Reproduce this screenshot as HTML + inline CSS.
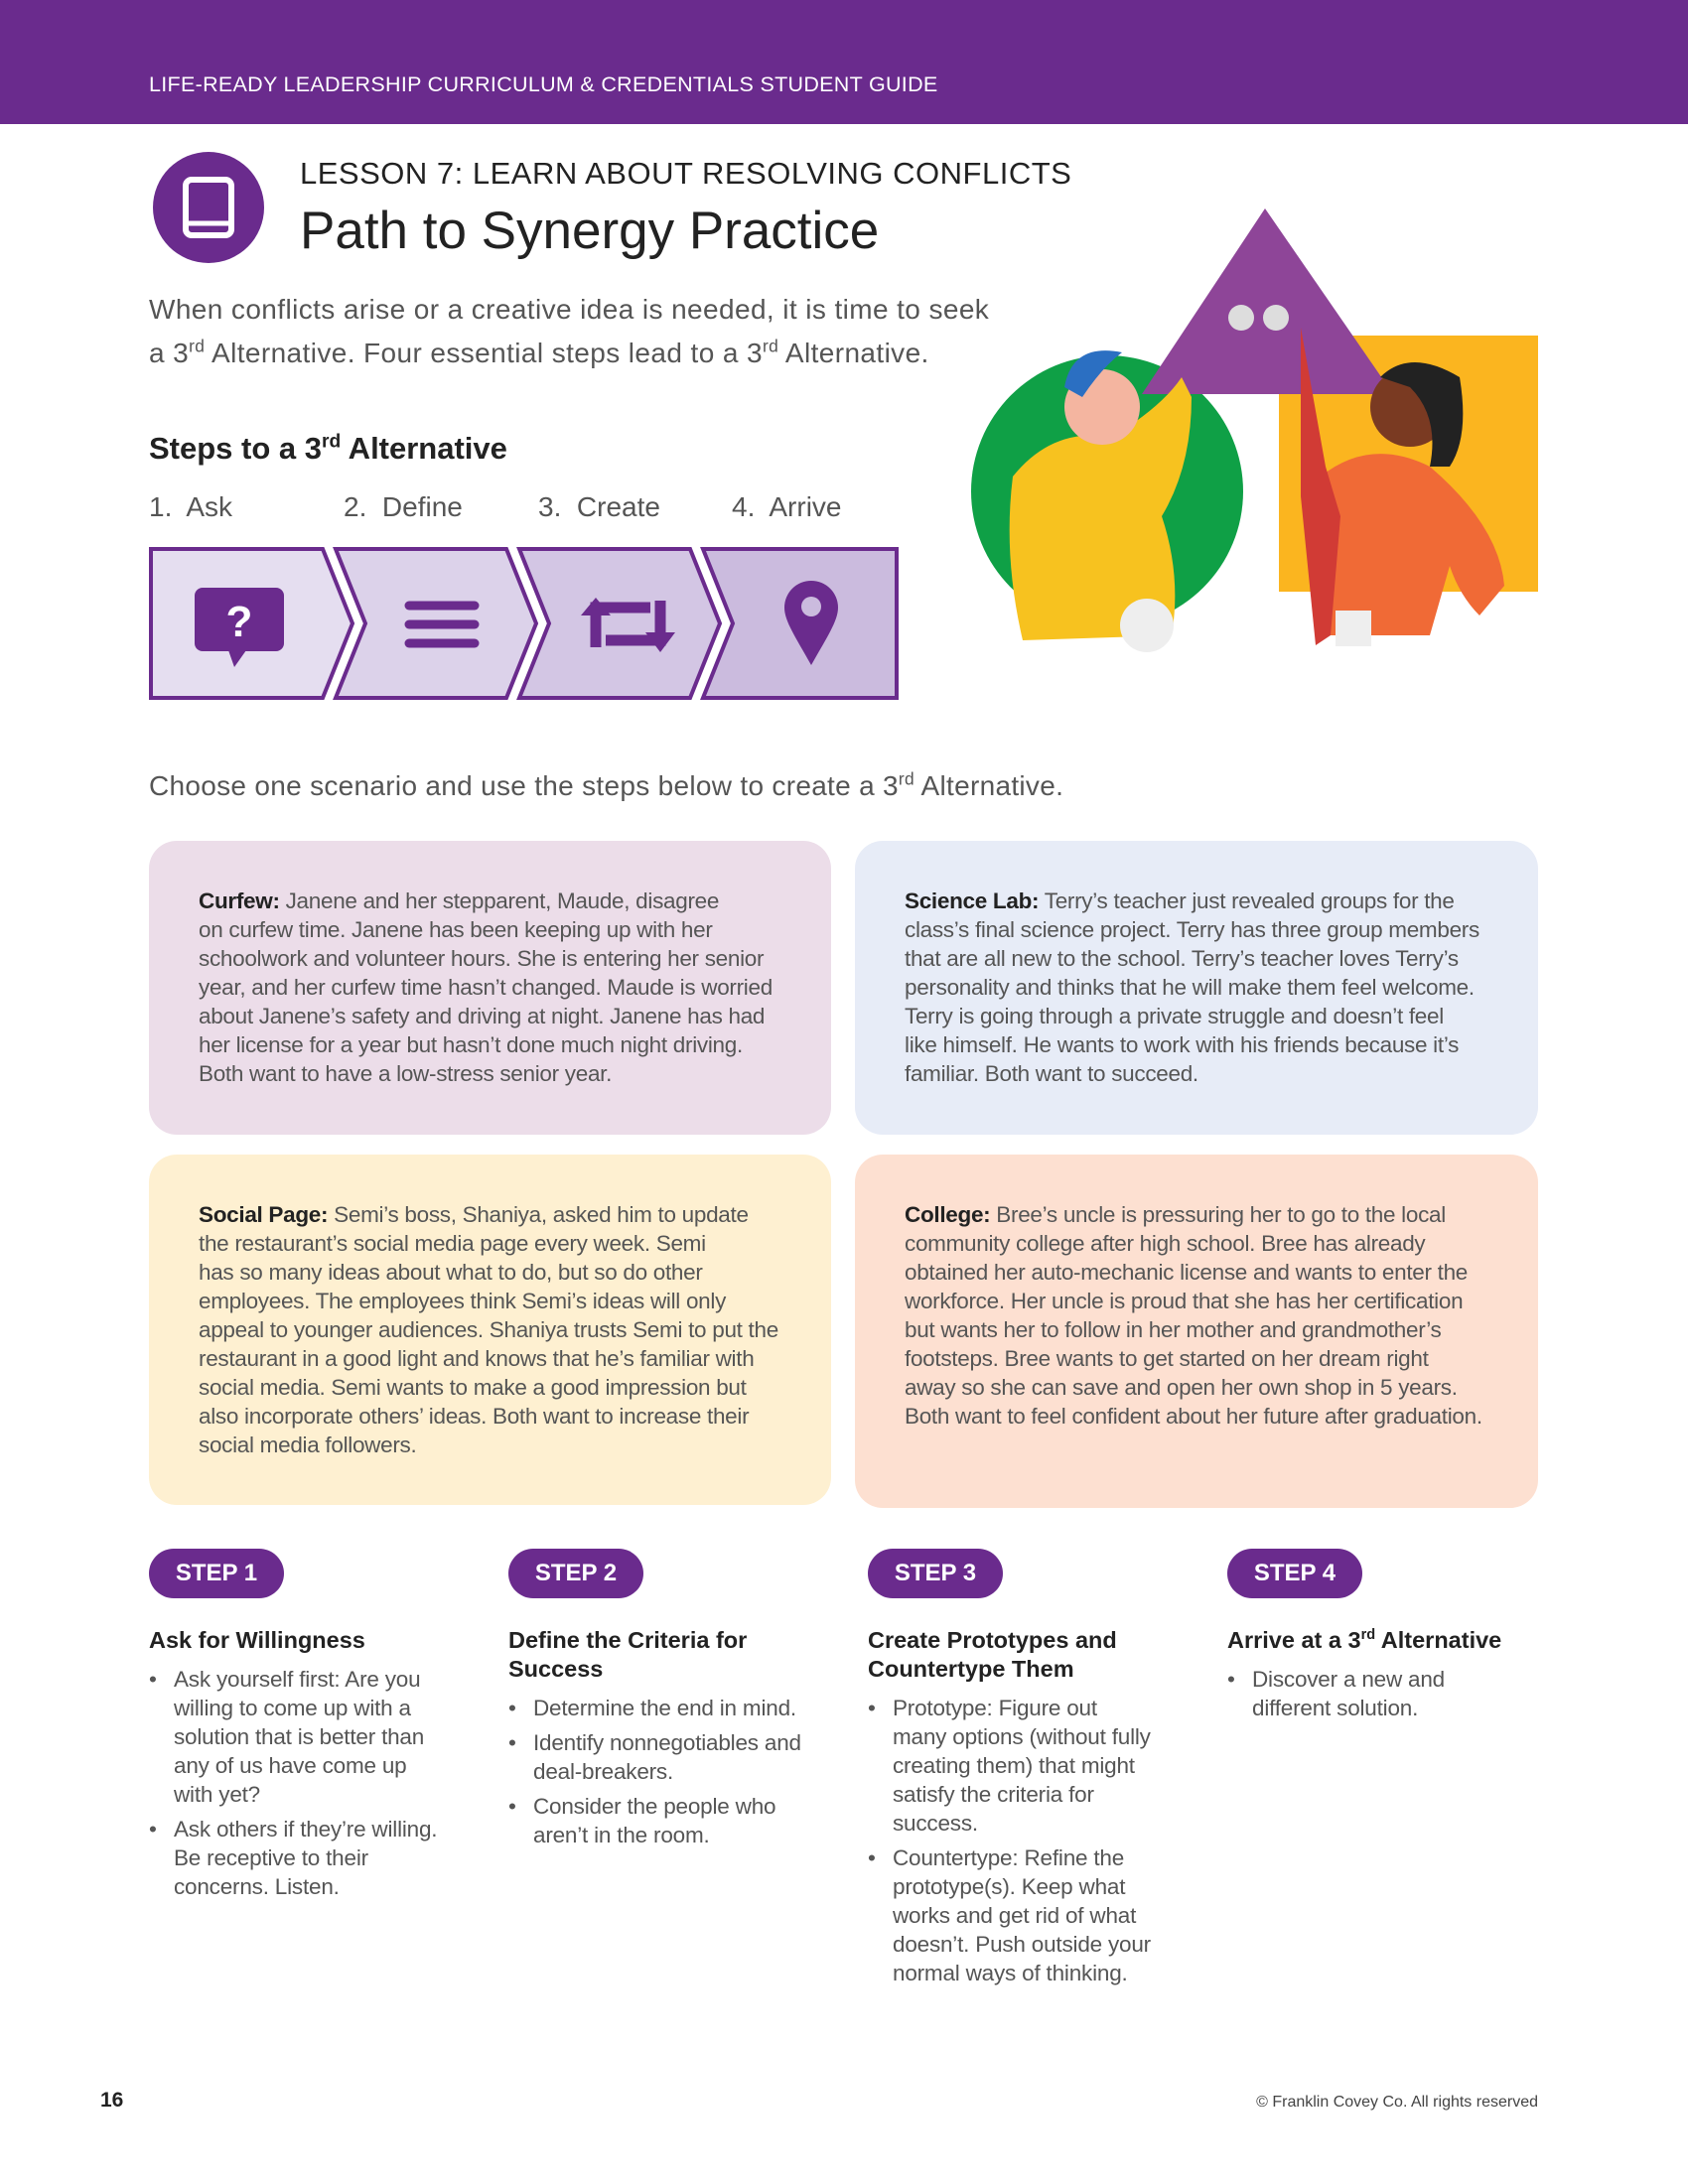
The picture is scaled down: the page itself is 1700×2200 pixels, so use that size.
<!DOCTYPE html>
<html><head><meta charset="utf-8"><style>
*{margin:0;padding:0;box-sizing:border-box}
body{width:1700px;height:2200px;position:relative;background:#fff;font-family:"Liberation Sans",sans-serif;color:#555;overflow:hidden}
.a{position:absolute}
.hdr{left:0;top:0;width:1700px;height:125px;background:#6a2b8d}
.hdr span{position:absolute;left:150px;top:73px;color:#fff;font-size:21.5px;letter-spacing:.3px}
.box{position:absolute;border-radius:28px;padding:46px 50px 0 50px;font-size:22.5px;line-height:29px;color:#555;letter-spacing:-.3px}
.box b{color:#222;font-weight:bold}
.pill{position:absolute;top:1560px;width:136px;height:50px;border-radius:25px;background:#6a2b8d;color:#fff;font-weight:bold;font-size:24px;text-align:center;line-height:50px}
.col{position:absolute;top:1638px}
.col h3{font-size:23.5px;color:#222;font-weight:bold;line-height:29px;margin-bottom:10px}
.col ul{list-style:none}
.col li{position:relative;padding-left:25px;font-size:22.5px;line-height:29px;color:#555;margin-bottom:6px;letter-spacing:-.2px}
.col li:before{content:"•";position:absolute;left:0;color:#555}
sup{font-size:62%;line-height:0;vertical-align:super}
</style></head><body>
<div class="a hdr"><span>LIFE-READY LEADERSHIP CURRICULUM &amp; CREDENTIALS STUDENT GUIDE</span></div>

<svg class="a" style="left:154px;top:153px" width="112" height="112" viewBox="0 0 112 112">
<circle cx="56" cy="56" r="56" fill="#6a2b8d"/>
<rect x="33" y="28" width="46" height="56" rx="6" fill="none" stroke="#fff" stroke-width="6"/>
<line x1="33" y1="72" x2="79" y2="72" stroke="#fff" stroke-width="5"/>
</svg>
<div class="a" style="left:302px;top:157px;font-size:31px;color:#222;letter-spacing:.5px">LESSON 7: LEARN ABOUT RESOLVING CONFLICTS</div>
<div class="a" style="left:302px;top:202px;font-size:53px;color:#222">Path to Synergy Practice</div>
<div class="a" style="left:150px;top:290px;font-size:28px;line-height:44px;color:#555;width:1000px;letter-spacing:.4px">When conflicts arise or a creative idea is needed, it is time to seek<br>a 3<sup>rd</sup> Alternative. Four essential steps lead to a 3<sup>rd</sup> Alternative.</div>
<div class="a" style="left:150px;top:434px;font-size:31px;font-weight:bold;color:#222">Steps to a 3<sup>rd</sup> Alternative</div>
<div class="a" style="left:150px;top:495px;font-size:28px;color:#555">1.&nbsp; Ask</div>
<div class="a" style="left:346px;top:495px;font-size:28px;color:#555">2.&nbsp; Define</div>
<div class="a" style="left:542px;top:495px;font-size:28px;color:#555">3.&nbsp; Create</div>
<div class="a" style="left:737px;top:495px;font-size:28px;color:#555">4.&nbsp; Arrive</div>

<svg class="a" style="left:0;top:0" width="1700" height="760">
<g stroke="#6a2b8d" stroke-width="4" stroke-linejoin="miter">
<polygon points="152,553 325,553 355,628 325,703 152,703" fill="#e5def0"/>
<polygon points="338,553 510,553 540,628 510,703 338,703 368,628" fill="#dcd2ea"/>
<polygon points="523,553 695,553 725,628 695,703 523,703 553,628" fill="#d3c6e4"/>
<polygon points="708,553 903,553 903,703 708,703 738,628" fill="#cbbbde"/>
</g>
<rect x="196" y="592" width="90" height="64" rx="8" fill="#6a2b8d"/>
<polygon points="230,655 248,655 236,672" fill="#6a2b8d"/>
<text x="241" y="641" font-size="44" font-weight="bold" fill="#fff" text-anchor="middle" font-family="Liberation Sans">?</text>
<g stroke="#6a2b8d" stroke-width="9" stroke-linecap="round"><line x1="412" y1="610" x2="478" y2="610"/><line x1="412" y1="629" x2="478" y2="629"/><line x1="412" y1="648" x2="478" y2="648"/></g>
<g fill="none" stroke="#6a2b8d" stroke-width="11"><path d="M600 652 V612 H655"/><path d="M665 605 V645 H610"/></g>
<polygon points="585,620 615,620 600,602" fill="#6a2b8d"/><polygon points="650,637 680,637 665,657" fill="#6a2b8d"/>
<path d="M817 670 C800 640 790 625 790 612 a27 27 0 0 1 54 0 C844 625 834 640 817 670Z" fill="#6a2b8d"/>
<circle cx="817" cy="611" r="10" fill="#cbbbde"/>
<!-- illustration -->
<circle cx="1115" cy="495" r="137" fill="#0fa046"/>
<rect x="1288" y="338" width="261" height="258" fill="#fbb51f"/>
<polygon points="1274,210 1150,397 1403,397" fill="#8e4598"/>
<circle cx="1250" cy="320" r="13" fill="#ddd"/><circle cx="1285" cy="320" r="13" fill="#ddd"/>
<path d="M1020 480 Q1060 430 1120 440 Q1170 410 1190 380 L1200 400 Q1200 470 1170 520 Q1190 580 1180 640 L1030 645 Q1010 560 1020 480Z" fill="#f7c21f"/>
<circle cx="1110" cy="410" r="38" fill="#f4b5a0"/>
<path d="M1072 390 Q1080 345 1130 355 Q1110 370 1090 400 Z" fill="#2b6fc2"/>
<circle cx="1155" cy="630" r="27" fill="#eee"/>
<path d="M1330 480 Q1380 440 1440 470 Q1510 530 1515 590 L1490 620 Q1470 600 1460 570 L1440 640 L1340 640 Q1320 560 1330 480Z" fill="#f06a36"/>
<path d="M1310 330 L1335 470 L1350 520 L1340 640 L1325 650 L1310 500 Z" fill="#d13b35"/>
<circle cx="1420" cy="410" r="40" fill="#7a3a22"/>
<path d="M1390 380 Q1420 350 1470 380 Q1480 440 1460 470 L1440 470 Q1450 420 1420 390Z" fill="#222"/>
<rect x="1345" y="615" width="36" height="36" fill="#eee"/>
</svg>

<div class="a" style="left:150px;top:776px;font-size:28px;color:#555;letter-spacing:.3px">Choose one scenario and use the steps below to create a 3<sup>rd</sup> Alternative.</div>

<div class="box" style="left:150px;top:847px;width:687px;height:296px;background:#ecdde9"><b>Curfew:</b> Janene and her stepparent, Maude, disagree<br>on curfew time. Janene has been keeping up with her<br>schoolwork and volunteer hours. She is entering her senior<br>year, and her curfew time hasn’t changed. Maude is worried<br>about Janene’s safety and driving at night. Janene has had<br>her license for a year but hasn’t done much night driving.<br>Both want to have a low-stress senior year.</div>
<div class="box" style="left:861px;top:847px;width:688px;height:296px;background:#e7ecf7"><b>Science Lab:</b> Terry’s teacher just revealed groups for the<br>class’s final science project. Terry has three group members<br>that are all new to the school. Terry’s teacher loves Terry’s<br>personality and thinks that he will make them feel welcome.<br>Terry is going through a private struggle and doesn’t feel<br>like himself. He wants to work with his friends because it’s<br>familiar. Both want to succeed.</div>
<div class="box" style="left:150px;top:1163px;width:687px;height:353px;background:#fef0d1"><b>Social Page:</b> Semi’s boss, Shaniya, asked him to update<br>the restaurant’s social media page every week. Semi<br>has so many ideas about what to do, but so do other<br>employees. The employees think Semi’s ideas will only<br>appeal to younger audiences. Shaniya trusts Semi to put the<br>restaurant in a good light and knows that he’s familiar with<br>social media. Semi wants to make a good impression but<br>also incorporate others’ ideas. Both want to increase their<br>social media followers.</div>
<div class="box" style="left:861px;top:1163px;width:688px;height:356px;background:#fde0d1"><b>College:</b> Bree’s uncle is pressuring her to go to the local<br>community college after high school. Bree has already<br>obtained her auto-mechanic license and wants to enter the<br>workforce. Her uncle is proud that she has her certification<br>but wants her to follow in her mother and grandmother’s<br>footsteps. Bree wants to get started on her dream right<br>away so she can save and open her own shop in 5 years.<br>Both want to feel confident about her future after graduation.</div>

<div class="pill" style="left:150px">STEP 1</div>
<div class="pill" style="left:512px">STEP 2</div>
<div class="pill" style="left:874px">STEP 3</div>
<div class="pill" style="left:1236px">STEP 4</div>

<div class="col" style="left:150px;width:330px"><h3>Ask for Willingness</h3><ul style="width:300px"><li>Ask yourself first: Are you willing to come up with a solution that is better than any of us have come up with yet?</li><li>Ask others if they’re willing. Be receptive to their concerns. Listen.</li></ul></div>
<div class="col" style="left:512px;width:330px"><h3>Define the Criteria for<br>Success</h3><ul style="width:295px"><li>Determine the end in mind.</li><li>Identify nonnegotiables and deal-breakers.</li><li>Consider the people who aren’t in the room.</li></ul></div>
<div class="col" style="left:874px;width:330px"><h3>Create Prototypes and<br>Countertype Them</h3><ul style="width:288px"><li>Prototype: Figure out many options (without fully creating them) that might satisfy the criteria for success.</li><li>Countertype: Refine the prototype(s). Keep what works and get rid of what doesn’t. Push outside your normal ways of thinking.</li></ul></div>
<div class="col" style="left:1236px;width:330px"><h3>Arrive at a 3<sup>rd</sup> Alternative</h3><ul style="width:255px"><li>Discover a new and different solution.</li></ul></div>

<div class="a" style="left:101px;top:2104px;font-size:21px;font-weight:bold;color:#222">16</div>
<div class="a" style="right:151px;top:2109px;font-size:16px;color:#444">© Franklin Covey Co. All rights reserved</div>
</body></html>
